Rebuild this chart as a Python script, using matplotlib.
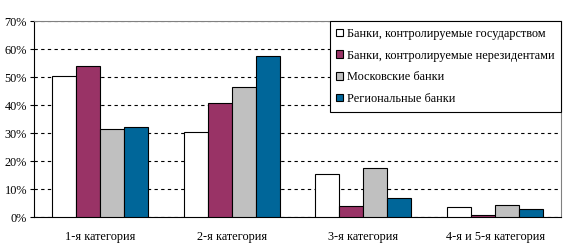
import numpy as np
import matplotlib
matplotlib.use("Agg")
import matplotlib.pyplot as plt
from matplotlib.ticker import FuncFormatter

plt.rcParams['font.family'] = 'serif'
plt.rcParams['font.serif'] = ['Liberation Serif', 'Times New Roman', 'DejaVu Serif']

categories = ['1-я категория', '2-я категория', '3-я категория', '4-я и 5-я категория']
series_names = ['Банки, контролируемые государством',
                'Банки, контролируемые нерезидентами',
                'Московские банки',
                'Региональные банки']
state = [50.2, 30.2, 15.4, 3.5]
nonres = [53.8, 40.6, 3.8, 0.6]
moscow = [31.3, 46.3, 17.4, 4.2]
regional = [32.0, 57.4, 6.7, 2.8]
colors = ['#ffffff', '#993366', '#c0c0c0', '#006699']

fig = plt.figure(figsize=(5.7, 2.52), dpi=100)
ax = fig.add_axes([34 / 570, 1 - 217 / 252, (561 - 34) / 570, (217 - 21) / 252])

x = np.arange(len(categories))
w = 0.182
for i, (vals, name) in enumerate(zip([state, nonres, moscow, regional], series_names)):
    ax.bar(x + (i - 1.5) * w, vals, w, color=colors[i], edgecolor='black',
           linewidth=0.8, label=name, zorder=3)

ax.set_xlim(-0.5, len(categories) - 0.5)
ax.set_ylim(0, 70)
ax.set_yticks(range(0, 71, 10))
ax.yaxis.set_major_formatter(FuncFormatter(lambda v, p: f'{int(v)}%'))
ax.set_xticks(x)
ax.set_xticklabels(categories)
ax.tick_params(axis='x', length=0, pad=10, labelsize=8.8)
ax.tick_params(axis='y', length=3, width=0.8, labelsize=8.8, pad=2)
ax.yaxis.grid(True, linestyle=(0, (3, 3)), color='black', linewidth=0.8, zorder=0)

for s in ['top', 'right']:
    ax.spines[s].set_color('#808080')
for s in ['left', 'bottom']:
    ax.spines[s].set_color('black')
for s in ax.spines.values():
    s.set_linewidth(0.8)

leg = ax.legend(loc='upper right', bbox_to_anchor=(1.0, 1.0), fontsize=8.8,
                frameon=True, fancybox=False, edgecolor='black', framealpha=1,
                handlelength=0.55, handleheight=0.55, handletextpad=0.3,
                labelspacing=0.8, borderpad=0.55, borderaxespad=0)
leg.get_frame().set_linewidth(0.8)
leg.set_zorder(5)

fig.savefig('out.png', dpi=100)
